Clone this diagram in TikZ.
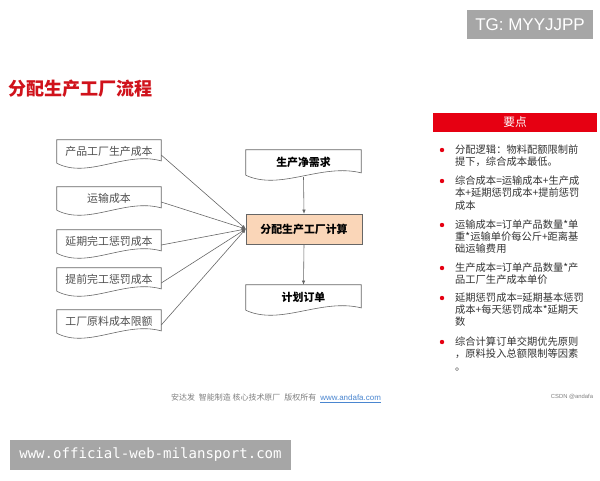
\documentclass[tikz,border=0pt]{standalone}
\usepackage{fontspec}
\usepackage{xcolor}
\usepackage{tikz}
\usetikzlibrary{arrows.meta}
\setmainfont{Noto Sans CJK SC}
\newfontfamily\tagfont{Liberation Sans}
\newfontfamily\urlfont{DejaVu Sans Mono}

\definecolor{titlered}{HTML}{D0121B}
\definecolor{headred}{HTML}{E60012}
\definecolor{peach}{HTML}{FAD6B8}
\definecolor{taggray}{HTML}{A6A6A6}
\definecolor{linegray}{HTML}{666666}
\definecolor{boxtext}{HTML}{505050}
\definecolor{darktext}{HTML}{333333}
\definecolor{linkblue}{HTML}{4A86D0}

% document outline with a wavy lower edge: node name, width in px
\newcommand{\docwave}[2]{%
  \draw[linegray, line width=0.5pt] (#1.south west) -- (#1.north west) -- (#1.north east)
    -- ([yshift=2pt]#1.south east)
    .. controls +(-0.35*#2,-10) and +(0.3*#2,16) .. (#1.south west);}

\begin{document}
\begin{tikzpicture}[x=0.03cm, y=-0.03cm,
  costbox/.style={minimum width=3.12cm, minimum height=0.69cm, inner sep=0pt,
    text=boxtext, font=\fontsize{9.3pt}{11pt}\selectfont},
  flowbox/.style={minimum width=3.45cm, minimum height=0.75cm, inner sep=0pt,
    text=black, font=\fontsize{9.3pt}{11pt}\selectfont\bfseries},
  calcbox/.style={draw=linegray, fill=peach, minimum width=3.48cm, minimum height=0.9cm,
    inner sep=0pt, font=\fontsize{9.3pt}{11pt}\selectfont\bfseries},
  feed/.style={linegray, line width=0.5pt, -{Latex[length=3.5pt,width=3pt]}},
  pointtext/.style={anchor=north west, inner sep=0pt, text width=4.4cm, align=left,
    text=darktext, font=\fontsize{8.75pt}{10.5pt}\selectfont},
  graytag/.style={fill=taggray, text=white, inner sep=0pt}]

  \fill[white] (0,0) rectangle (600,480);
  \useasboundingbox (0,0) rectangle (600,480);

  \node[graytag, minimum width=3.78cm, minimum height=0.87cm, font=\tagfont\fontsize{14.5pt}{16pt}\selectfont]
    (tg) at (530,25) {TG: MYYJJPP};
  \node[anchor=west, inner sep=0pt, text=titlered, font=\fontsize{15.4pt}{17pt}\selectfont\bfseries]
    (title) at (8,89) {分配生产工厂流程};

  % cost inputs
  \node[costbox] (prodcost)  at (109,151.5) {产品工厂生产成本};
  \node[costbox] (freight)   at (109,198.5) {运输成本};
  \node[costbox] (latefine)  at (109,241.5) {延期完工惩罚成本};
  \node[costbox] (earlyfine) at (109,279.5) {提前完工惩罚成本};
  \node[costbox] (rawlimit)  at (109,321.5) {工厂原料成本限额};
  \foreach \n in {prodcost,freight,latefine,earlyfine,rawlimit}
    \docwave{\n}{104};

  % main flow
  \node[flowbox] (netneed) at (303.5,162.5) {生产净需求};
  \docwave{netneed}{115};
  \node[calcbox] (calc) at (304,229) {分配生产工厂计算};
  \node[flowbox] (plan) at (303.5,297.5) {计划订单};
  \docwave{plan}{115};

  \foreach \n in {prodcost,freight,latefine,earlyfine,rawlimit}
    \draw[feed] ([yshift=-3pt]\n.east) -- (calc.west);
  \draw[feed] ([yshift=-1.7pt]netneed.south) -- (calc.north);
  \draw[feed] (calc.south) -- (plan.north);

  % key points
  \node[fill=headred, text=white, minimum width=4.92cm, minimum height=0.57cm, inner sep=0pt,
    font=\fontsize{10pt}{12pt}\selectfont] (head) at (515,122.5) {要点};
  \foreach \y/\txt [count=\i] in {
      150/{分配逻辑：物料配额限制前\\提下，综合成本最低。},
      181/{综合成本=运输成本+生产成\\本+延期惩罚成本+提前惩罚\\成本},
      225/{运输成本=订单产品数量*单\\重*运输单价每公斤+距离基\\础运输费用},
      268/{生产成本=订单产品数量*产\\品工厂生产成本单价},
      298/{延期惩罚成本=延期基本惩罚\\成本+每天惩罚成本*延期天\\数},
      342/{综合计算订单交期优先原则\\，原料投入总额限制等因素\\。}} {
    \fill[headred] (442,\y) circle (2.2);
    \node[pointtext] (point\i) at (455,\y-5.5) {\txt};
  }

  % footer
  \node[inner sep=0pt, text=gray, font=\fontsize{6.8pt}{8pt}\selectfont] (footer) at (276,398)
    {安达发\enspace 智能制造 核心技术原厂\enspace 版权所有\enspace \textcolor{linkblue}{\tagfont\underline{www.andafa.com}}};
  \node[inner sep=0pt, text=gray, font=\tagfont\fontsize{5pt}{6pt}\selectfont] (csdn) at (572,397) {CSDN @andafa};
  \node[graytag, minimum width=8.43cm, minimum height=0.9cm, font=\urlfont\fontsize{12pt}{14pt}\selectfont]
    (site) at (150.5,455) {www.official-web-milansport.com};
\end{tikzpicture}
\end{document}
